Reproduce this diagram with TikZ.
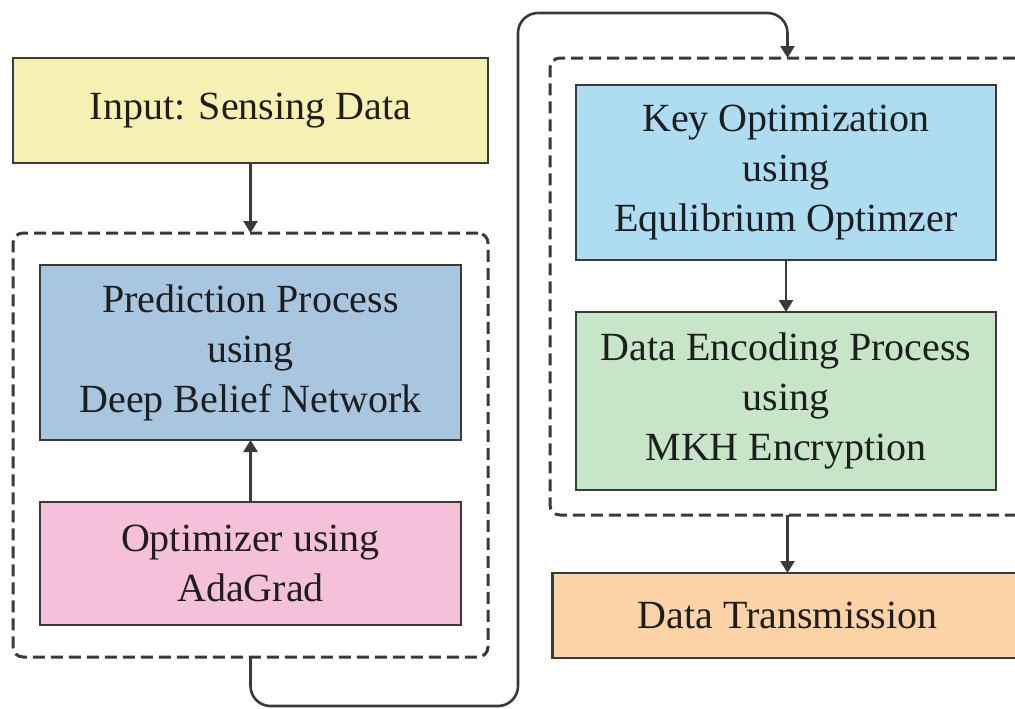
\documentclass[tikz,border=0pt]{standalone}
\usepackage{fontspec}
\setmainfont{Liberation Serif}
\usetikzlibrary{arrows.meta}
\definecolor{cyellow}{HTML}{F6F1B2}
\definecolor{cpred}{HTML}{A8C6E0}
\definecolor{cpink}{HTML}{F5C1DA}
\definecolor{ckey}{HTML}{AEDDF2}
\definecolor{cgreen}{HTML}{C7E6C8}
\definecolor{cpeach}{HTML}{FBD3A6}
\definecolor{cline}{HTML}{3A3A3A}
\definecolor{ctext}{HTML}{1E1E1E}
\tikzset{
  box/.style={draw=cline, line width=1.4pt, inner sep=0pt, outer sep=0pt, align=center,
    text=ctext, font=\fontsize{20}{25}\selectfont},
  group/.style={draw=cline, line width=1.5pt, dash pattern=on 6pt off 3pt, rounded corners=5pt,
    inner sep=0pt, outer sep=0pt},
  conn/.style={draw=cline, line width=1.3pt, -{Triangle[length=6pt,width=7pt]}},
}
\begin{document}
\begin{tikzpicture}[x=0.5pt,y=-0.5pt]
\useasboundingbox (0,0) rectangle (1015,708);
\clip (0,0) rectangle (1015,708);
% groups
\node[group, minimum width=237.5pt, minimum height=212pt] (L) at (250.5,445) {};
\node[group, minimum width=237.5pt, minimum height=228.5pt] (R) at (787.5,286.5) {};
% boxes
\node[box, fill=cyellow, minimum width=237.5pt, minimum height=52.5pt] (in) at (250.5,110.5) {Input: Sensing Data};
\node[box, fill=cpred, minimum width=210.5pt, minimum height=87.5pt] (pred) at (250.5,352.5) {Prediction Process\\using\\Deep Belief Network};
\node[box, fill=cpink, minimum width=210.5pt, minimum height=61.5pt] (opt) at (250.5,563.5) {Optimizer using\\AdaGrad};
\node[box, fill=ckey, minimum width=210pt, minimum height=87.5pt] (key) at (786,172.5) {Key Optimization\\using\\Equlibrium Optimzer};
\node[box, fill=cgreen, minimum width=210pt, minimum height=89pt] (enc) at (786,401) {Data Encoding Process\\using\\MKH Encryption};
\node[box, fill=cpeach, minimum width=235pt, minimum height=42.5pt] (tx) at (787.5,615.5) {Data Transmission};
% connectors
\coordinate (c1) at (518,706);
\coordinate (c2) at (518,13);
\draw[conn] (in.south) -- (L.north);
\draw[conn] (opt.north) -- (pred.south);
\draw[conn] (key.south) -- (enc.north);
\draw[conn] (R.south) -- (tx.north);
\draw[conn, rounded corners=10pt] (L.south) |- (c1) -- (c2) -| (R.north);
\end{tikzpicture}
\end{document}
